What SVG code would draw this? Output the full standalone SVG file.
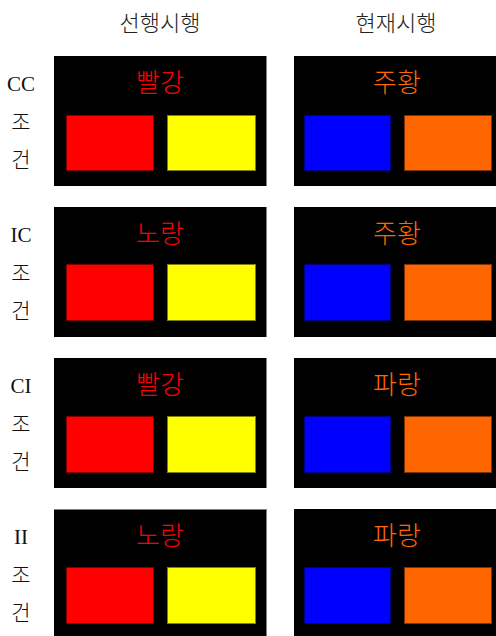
<svg xmlns="http://www.w3.org/2000/svg" width="496" height="636" viewBox="0 0 496 636">
<style>
.bg{fill:#ffffff}
.panel{fill:#000000}
.edge{stroke:#808080;stroke-width:1}
.title{font-family:"Liberation Serif","Noto Sans CJK KR",serif;font-size:22px;font-weight:300;fill:#222;text-anchor:middle}
.lab{font-family:"Liberation Serif","Noto Sans CJK KR",serif;font-size:21px;font-weight:300;fill:#111;text-anchor:middle}
.pt{font-family:"Noto Sans CJK KR",sans-serif;font-size:26px;font-weight:300;text-anchor:middle}
.red{fill:#ff0000;stroke:#800000;stroke-width:1}
.yel{fill:#ffff00;stroke:#808000;stroke-width:1}
.blu{fill:#0000ff;stroke:#000080;stroke-width:1}
.org{fill:#ff6600;stroke:#803300;stroke-width:1}
.tr{fill:#ff0000}
.to{fill:#ff6600}
</style>
<rect class="bg" x="0" y="0" width="496" height="636"/>
<text class="title" x="160" y="31">선행시행</text>
<text class="title" x="396" y="31">현재시행</text>

<g id="row-cc">
  <text class="lab" x="21" y="91">CC</text>
  <text class="lab" x="21" y="129">조</text>
  <text class="lab" x="21" y="167">건</text>
  <g id="cc-prev">
    <rect class="panel" x="54" y="56" width="212" height="130"/>
    <line class="edge" x1="266.5" y1="56" x2="266.5" y2="186"/>
    <text class="pt tr" x="160" y="92">빨강</text>
    <rect class="red" x="66.5" y="115.5" width="87" height="55"/>
    <rect class="yel" x="167.5" y="115.5" width="88" height="55"/>
  </g>
  <g id="cc-cur">
    <rect class="panel" x="294" y="56" width="202" height="130"/>
    <text class="pt to" x="397" y="92">주황</text>
    <rect class="blu" x="304.5" y="115.5" width="86" height="55"/>
    <rect class="org" x="404.5" y="115.5" width="87" height="55"/>
  </g>
</g>

<g id="row-ic">
  <text class="lab" x="21" y="242">IC</text>
  <text class="lab" x="21" y="280">조</text>
  <text class="lab" x="21" y="318">건</text>
  <g id="ic-prev">
    <rect class="panel" x="54" y="207" width="212" height="130"/>
    <line class="edge" x1="266.5" y1="207" x2="266.5" y2="337"/>
    <text class="pt tr" x="160" y="243">노랑</text>
    <rect class="red" x="66.5" y="264.5" width="87" height="56"/>
    <rect class="yel" x="167.5" y="264.5" width="88" height="56"/>
  </g>
  <g id="ic-cur">
    <rect class="panel" x="294" y="207" width="202" height="130"/>
    <text class="pt to" x="397" y="243">주황</text>
    <rect class="blu" x="304.5" y="264.5" width="86" height="56"/>
    <rect class="org" x="404.5" y="264.5" width="87" height="56"/>
  </g>
</g>

<g id="row-ci">
  <text class="lab" x="21" y="393">CI</text>
  <text class="lab" x="21" y="431">조</text>
  <text class="lab" x="21" y="469">건</text>
  <g id="ci-prev">
    <rect class="panel" x="54" y="358" width="212" height="130"/>
    <line class="edge" x1="266.5" y1="358" x2="266.5" y2="488"/>
    <text class="pt tr" x="160" y="394">빨강</text>
    <rect class="red" x="66.5" y="416.5" width="87" height="56"/>
    <rect class="yel" x="167.5" y="416.5" width="88" height="56"/>
  </g>
  <g id="ci-cur">
    <rect class="panel" x="294" y="358" width="202" height="130"/>
    <text class="pt to" x="397" y="394">파랑</text>
    <rect class="blu" x="304.5" y="416.5" width="86" height="56"/>
    <rect class="org" x="404.5" y="416.5" width="87" height="56"/>
  </g>
</g>

<g id="row-ii">
  <text class="lab" x="21" y="544">II</text>
  <text class="lab" x="21" y="582">조</text>
  <text class="lab" x="21" y="620">건</text>
  <g id="ii-prev">
    <rect class="panel" x="54" y="509" width="212" height="130"/>
    <line class="edge" x1="266.5" y1="509" x2="266.5" y2="636"/>
    <line class="edge" x1="54" y1="509.5" x2="266" y2="509.5"/>
    <text class="pt tr" x="160" y="545">노랑</text>
    <rect class="red" x="66.5" y="567.5" width="87" height="56"/>
    <rect class="yel" x="167.5" y="567.5" width="88" height="56"/>
  </g>
  <g id="ii-cur">
    <rect class="panel" x="294" y="509" width="202" height="130"/>
    <text class="pt to" x="397" y="545">파랑</text>
    <rect class="blu" x="304.5" y="567.5" width="86" height="56"/>
    <rect class="org" x="404.5" y="567.5" width="87" height="56"/>
  </g>
</g>
<g id="connectors"/>
</svg>
